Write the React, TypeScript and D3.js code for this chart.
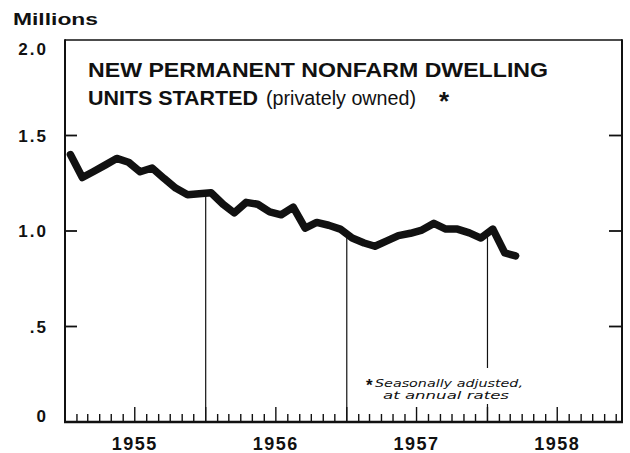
import React from "react";
import * as d3 from "d3";

// monthly values, millions of units (seasonally adjusted annual rates)
const values1955 = [1.40, 1.28, 1.31, 1.345, 1.38, 1.36, 1.31, 1.33, 1.275, 1.225, 1.19, 1.195];
const values1956 = [1.20, 1.14, 1.095, 1.15, 1.14, 1.10, 1.085, 1.125, 1.015, 1.045, 1.03, 1.01];
const values1957 = [0.963, 0.937, 0.92, 0.948, 0.976, 0.988, 1.005, 1.04, 1.01, 1.01, 0.99, 0.963];
const values1958 = [1.01, 0.885, 0.87];

const years = [1955, 1956, 1957, 1958];
const yTicks = [0, 0.5, 1.0, 1.5, 2.0];
const yTickLabels = ["0", ".5", "1.0", "1.5", "2.0"];
const dividerYears = [1956, 1957, 1958];

const W = 630;
const H = 453;
const left = 65;
const right = 622;
const top = 40;
const bottom = 422;

const FONT = "'Liberation Sans', Arial, sans-serif";

export default function App() {
  const series = [values1955, values1956, values1957, values1958];
  const data: { date: Date; value: number }[] = [];
  series.forEach((vals, yi) => {
    vals.forEach((v, m) => data.push({ date: new Date(years[yi], m, 15), value: v }));
  });

  const x = d3.scaleTime()
    .domain([new Date(1955, 0, 1), new Date(1958, 11, 16)])
    .range([left, right]);
  const y = d3.scaleLinear().domain([0, 2]).range([bottom, top]);

  const line = d3.line<{ date: Date; value: number }>()
    .x(d => x(d.date))
    .y(d => y(d.value))
    .curve(d3.curveLinear);

  // value of the line at the start of a year (where the divider begins)
  const valueAt = (dt: Date) => {
    const i = d3.bisector((d: any) => d.date).left(data, dt);
    const a = data[Math.max(0, i - 1)];
    const b = data[Math.min(data.length - 1, i)];
    if (a === b) return a.value;
    const t = (+dt - +a.date) / (+b.date - +a.date);
    return a.value + (b.value - a.value) * t;
  };

  const monthTicks = d3.timeMonth.range(new Date(1955, 1, 1), new Date(1958, 11, 2));

  return (
    <svg width={W} height={H} style={{ position: "absolute", left: 0, top: 0, background: "#fff" }}>
      <rect x={0} y={0} width={W} height={H} fill="#fff" />

      {/* year dividers */}
      {dividerYears.map(yr => {
        const d = new Date(yr, 0, 1);
        return (
          <line key={yr} x1={x(d)} x2={x(d)} y1={y(valueAt(d))} y2={bottom}
            stroke="#111" strokeWidth={1.2} />
        );
      })}

      {/* footnote (masks divider) */}
      <rect x={365} y={368} width={162} height={36} fill="#fff" />
      <text x={366} y={391} fontFamily={FONT} fontSize={17} fontWeight="bold" fill="#111">*</text>
      <text x={375} y={387} fontFamily="'DejaVu Sans', sans-serif" fontStyle="italic" fontSize={10}
        textLength={148} lengthAdjust="spacingAndGlyphs" fill="#111">Seasonally adjusted,</text>
      <text x={383} y={399} fontFamily="'DejaVu Sans', sans-serif" fontStyle="italic" fontSize={10}
        textLength={126} lengthAdjust="spacingAndGlyphs" fill="#111">at annual rates</text>

      {/* month ticks */}
      {monthTicks.map((d, i) => {
        const tall = d.getMonth() === 6 || d.getMonth() === 0;
        return (
          <line key={i} x1={x(d)} x2={x(d)} y1={bottom} y2={bottom - (tall ? 15 : 8)}
            stroke="#111" strokeWidth={1.4} />
        );
      })}

      {/* y ticks both sides */}
      {yTicks.filter(v => v > 0 && v < 2).map(v => (
        <g key={v}>
          <line x1={left} x2={left + 12} y1={y(v)} y2={y(v)} stroke="#111" strokeWidth={1.8} />
          <line x1={right - 13} x2={right} y1={y(v)} y2={y(v)} stroke="#111" strokeWidth={1.8} />
        </g>
      ))}

      {/* frame */}
      <line x1={left} x2={right} y1={top} y2={top} stroke="#111" strokeWidth={1.6} />
      <line x1={left} x2={left} y1={top - 0.8} y2={bottom} stroke="#111" strokeWidth={2} />
      <line x1={right} x2={right} y1={top - 0.8} y2={bottom} stroke="#111" strokeWidth={2} />
      <line x1={left - 1} x2={right + 1} y1={bottom} y2={bottom} stroke="#111" strokeWidth={2.4} />

      {/* data line */}
      <path d={line(data) || ""} fill="none" stroke="#111" strokeWidth={7.5}
        strokeLinejoin="round" strokeLinecap="round" />

      {/* y labels */}
      <text x={13} y={25} fontFamily={FONT} fontSize={16} fontWeight="bold"
        textLength={85} lengthAdjust="spacingAndGlyphs" fill="#111">Millions</text>
      {yTicks.map((v, i) => {
        const cy = Math.min(Math.max(y(v), 49), 416);
        return (
          <text key={v} x={48} y={cy} dy="0.36em" textAnchor="end" fontFamily={FONT}
            fontSize={17} fontWeight="bold" letterSpacing={2} fill="#111">{yTickLabels[i]}</text>
        );
      })}

      {/* year labels */}
      {years.map(yr => (
        <text key={yr} x={x(new Date(yr, 6, 1))} y={450} textAnchor="middle" fontFamily={FONT}
          fontSize={18} fontWeight="bold" letterSpacing={1.5} fill="#111">{yr}</text>
      ))}

      {/* title */}
      <text x={88} y={77} fontFamily={FONT} fontSize={19.5} fontWeight="bold"
        textLength={460} lengthAdjust="spacingAndGlyphs" fill="#111">NEW PERMANENT NONFARM DWELLING</text>
      <text x={88} y={105} fontFamily={FONT} fontSize={19.5} fontWeight="bold"
        textLength={170} lengthAdjust="spacingAndGlyphs" fill="#111">UNITS STARTED</text>
      <text x={266} y={105} fontFamily={FONT} fontSize={19.5}
        textLength={150} lengthAdjust="spacingAndGlyphs" fill="#111">(privately owned)</text>
      <text x={439} y={110} fontFamily={FONT} fontSize={26} fontWeight="bold" fill="#111">*</text>
    </svg>
  );
}
